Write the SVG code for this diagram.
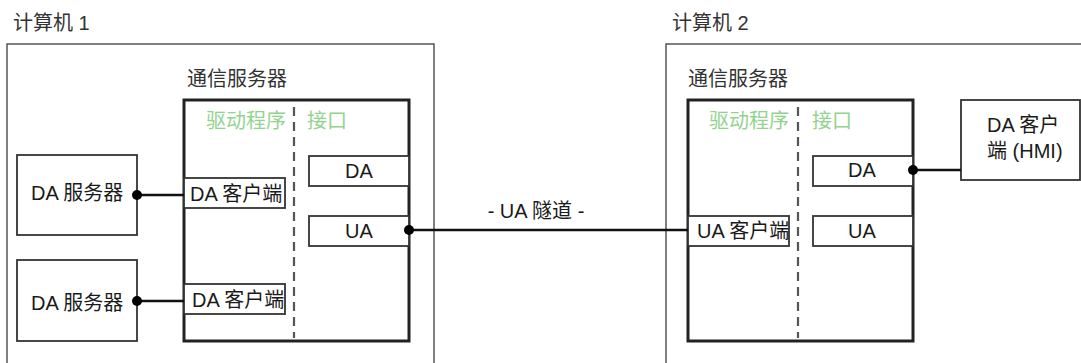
<svg xmlns="http://www.w3.org/2000/svg" width="1081" height="363" viewBox="0 0 1081 363">
<style>
text{font-family:"Liberation Sans","Noto Sans CJK SC",sans-serif;font-size:20px;fill:#1a1a1a}
.t{fill:#333}
.g{fill:#92d48e}
.m{text-anchor:middle}
.outer{fill:none;stroke:#555;stroke-width:1.5}
.inner{fill:#fff;stroke:#222;stroke-width:3}
.box{fill:#fff;stroke:#333;stroke-width:1.8}
.dash{stroke:#555;stroke-width:2.2;stroke-dasharray:9 6;fill:none}
.ln{stroke:#111;stroke-width:2.5;fill:none}
.dot{fill:#000}
</style>
<g id="computer1">
<rect class="outer" x="7" y="44" width="427" height="330"/>
<text class="t" x="13" y="30">计算机 1</text>
</g>
<g id="computer2">
<rect class="outer" x="666" y="44" width="430" height="330"/>
<text class="t" x="672" y="30">计算机 2</text>
</g>
<g id="commserver1">
<text class="t" x="187" y="86">通信服务器</text>
<rect class="inner" x="184" y="100" width="225" height="241"/>
<line class="dash" x1="294" y1="107" x2="294" y2="338"/>
<text class="g" x="206" y="128">驱动程序</text>
<text class="g" x="307" y="128">接口</text>
</g>
<g id="commserver2">
<text class="t" x="688" y="86">通信服务器</text>
<rect class="inner" x="688" y="100" width="225" height="241"/>
<line class="dash" x1="798" y1="107" x2="798" y2="338"/>
<text class="g" x="709" y="128">驱动程序</text>
<text class="g" x="812" y="128">接口</text>
</g>
<g id="daserver1">
<rect class="box" x="17" y="155" width="120" height="80"/>
<text x="31" y="200">DA 服务器</text>
</g>
<g id="daserver2">
<rect class="box" x="17" y="260" width="120" height="81"/>
<text x="31" y="310">DA 服务器</text>
</g>
<g id="daclient1">
<rect class="box" x="184" y="178" width="101" height="30"/>
<text x="190" y="201">DA 客户端</text>
</g>
<g id="daclient2">
<rect class="box" x="184" y="284" width="101" height="30"/>
<text x="192" y="307">DA 客户端</text>
</g>
<g id="if1-da">
<rect class="box" x="309" y="156" width="100" height="30"/>
<text class="m" x="359" y="178">DA</text>
</g>
<g id="if1-ua">
<rect class="box" x="309" y="216" width="100" height="30"/>
<text class="m" x="359" y="238">UA</text>
</g>
<g id="uaclient">
<rect class="box" x="688" y="216" width="101" height="30"/>
<text x="697" y="238">UA 客户端</text>
</g>
<g id="if2-da">
<rect class="box" x="813" y="156" width="100" height="30"/>
<text class="m" x="862" y="177">DA</text>
</g>
<g id="if2-ua">
<rect class="box" x="813" y="216" width="100" height="30"/>
<text class="m" x="862" y="238">UA</text>
</g>
<g id="hmi">
<rect class="box" x="961" y="100" width="119" height="80"/>
<text x="987" y="132">DA 客户</text>
<text x="987" y="158">端 (HMI)</text>
</g>
<g id="connectors">
<line class="ln" x1="137" y1="195" x2="184" y2="195"/>
<circle class="dot" cx="137" cy="195" r="5"/>
<line class="ln" x1="137" y1="301" x2="184" y2="301"/>
<circle class="dot" cx="137" cy="301" r="5"/>
<line class="ln" x1="409" y1="230" x2="688" y2="230"/>
<circle class="dot" cx="409" cy="230" r="5"/>
<text class="m" x="536" y="218">- UA 隧道 -</text>
<line class="ln" x1="913" y1="170" x2="961" y2="170"/>
<circle class="dot" cx="913" cy="170" r="5"/>
</g>
</svg>
